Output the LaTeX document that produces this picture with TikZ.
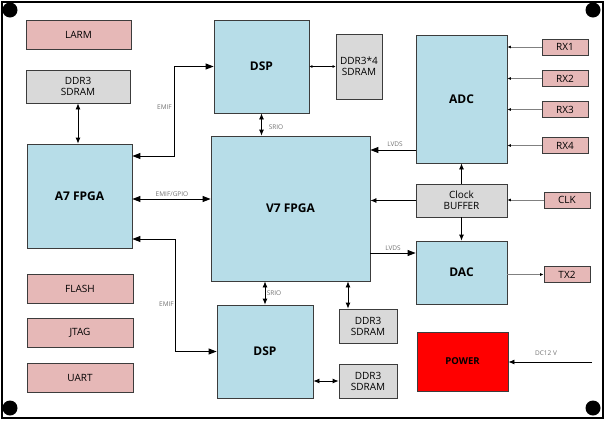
\documentclass[tikz,border=0pt]{standalone}
\usepackage{fontspec}
\setmainfont{Open Sans}
\usepackage{tikz}
\usetikzlibrary{arrows.meta}
\usetikzlibrary{positioning}
\usetikzlibrary{calc}
\definecolor{PinkFill}{RGB}{230,184,183}
\definecolor{BlueFill}{RGB}{183,221,232}
\definecolor{GrayFill}{RGB}{217,217,217}
\definecolor{EdgeColor}{RGB}{60,60,60}

\begin{document}
\begin{tikzpicture}[x=1pt, y=-1pt,
        blk/.style={draw=EdgeColor, line width=0.8pt, inner sep=0pt, align=center, font=\fontsize{10}{11}\selectfont},
        port/.style={blk, fill=PinkFill},
        mem/.style={blk, fill=GrayFill},
        chip/.style={blk, fill=BlueFill, font=\fontsize{12}{13}\selectfont\bfseries},
        bus/.style={{Latex[length=6pt,width=5pt]}-{Latex[length=6pt,width=5pt]}, line width=0.8pt},
        wide/.style={{Triangle[length=8pt,width=6pt]}-{Triangle[length=8pt,width=6pt]}, line width=1pt},
        wideto/.style={-{Triangle[length=8pt,width=6pt]}, line width=1pt},
        link/.style={-{Latex[length=6pt,width=5pt]}, line width=0.8pt},
        thin/.style={-{Latex[length=3.5pt,width=3pt,black]}, line width=0.9pt, gray},
        tag/.style={font=\fontsize{6.5}{7}\selectfont, text=gray!90!black, inner sep=1pt}
    ]
        \useasboundingbox (0,0) rectangle (606,421);
        \draw[line width=1.3pt] (2,2) rectangle (603,418);
        \fill (10,10) circle (7.5pt);
        \fill (593,10) circle (7.5pt);
        \fill (10,408) circle (7.5pt);
        \fill (593,408) circle (7.5pt);

        \node[port, minimum width=105pt, minimum height=29pt] (larm) at (78.5,34.5) {LARM};
        \node[mem, minimum width=104pt, minimum height=33pt] (ddrL) at (78,86.5) {DDR3\\SDRAM};
        \node[chip, minimum width=105pt, minimum height=104pt] (a7) at (79.5,196) {A7 FPGA};
        \node[port, minimum width=106pt, minimum height=29pt] (flash) at (80,288.5) {FLASH};
        \node[port, minimum width=106pt, minimum height=29pt] (jtag) at (80,332.5) {JTAG};
        \node[port, minimum width=106pt, minimum height=29pt] (uart) at (80,377.5) {UART};

        \node[chip, minimum width=95pt, minimum height=93pt] (dspA) at (261.5,66.5) {DSP};
        \node[mem, minimum width=46pt, minimum height=65pt] (ddrQ) at (359,66.5) {DDR3*4\\SDRAM};
        \node[chip, minimum width=159pt, minimum height=145pt] (v7) at (290.5,208.5) {V7 FPGA};
        \node[chip, minimum width=96pt, minimum height=93pt] (dspB) at (265,351.5) {DSP};
        \node[mem, minimum width=58pt, minimum height=34pt] (ddrM) at (368,326) {DDR3\\SDRAM};
        \node[mem, minimum width=58pt, minimum height=34pt] (ddrB) at (368,381) {DDR3\\SDRAM};

        \node[chip, minimum width=91pt, minimum height=128pt] (adc) at (461.5,99) {ADC};
        \node[mem, minimum width=91pt, minimum height=33pt] (clkbuf) at (461.5,200.5) {Clock\\BUFFER};
        \node[chip, minimum width=91pt, minimum height=63pt] (dac) at (461.5,272.5) {DAC};
        \node[blk, fill=red, minimum width=91pt, minimum height=59pt, font=\fontsize{9.5}{10}\selectfont\bfseries] (power) at (462.5,361.5) {POWER};

        \node[port, minimum width=46pt, minimum height=16pt] (rx1) at (565,47) {RX1};
        \node[port, minimum width=46pt, minimum height=16pt] (rx2) at (565,78.5) {RX2};
        \node[port, minimum width=46pt, minimum height=16pt] (rx3) at (565,109.5) {RX3};
        \node[port, minimum width=46pt, minimum height=16pt] (rx4) at (565,145.5) {RX4};
        \node[port, minimum width=46pt, minimum height=16pt] (clk) at (567,200) {CLK};
        \node[port, minimum width=46pt, minimum height=16pt] (tx2) at (567,274.5) {TX2};
        \coordinate (dcin) at (592,362);

        \draw[bus] (ddrL.south) -- (ddrL.south |- a7.north);
        \draw[wide] (a7.east |- 0,156) -| (174,66.5) -- (dspA.west);
        \draw[wide] (a7.east |- 0,199) -- (v7.west |- 0,199);
        \draw[wide] (a7.east |- 0,239) -| (175,351.5) -- (dspB.west);
        \draw[bus] (dspA.south) -- (dspA.south |- v7.north);
        \draw[bus] (dspB.north |- v7.south) -- (dspB.north);
        \draw[{Latex[length=3pt,width=3pt]}-{Latex[length=3pt,width=3pt]}, line width=0.8pt] (dspA.east |- ddrQ.west) -- (ddrQ.west);
        \draw[bus] (v7.south -| 348,0) -- (ddrM.north -| 348,0);
        \draw[bus] (dspB.east |- ddrB.west) -- (ddrB.west);

        \draw[wideto] (adc.west |- 0,150) -- (v7.east |- 0,150);
        \draw[wideto] (v7.east |- 0,253) -- (dac.west |- 0,253);
        \draw[link] (clkbuf.west) -- (v7.east |- clkbuf.west);
        \draw[link] (clkbuf.north) -- (adc.south);
        \draw[link] (clkbuf.south) -- (dac.north);
        \draw[thin] (clk.west) -- (clkbuf.east |- clk.west);
        \draw[thin] (rx1.west) -- (adc.east |- rx1.west);
        \draw[thin] (rx2.west) -- (adc.east |- rx2.west);
        \draw[thin] (rx3.west) -- (adc.east |- rx3.west);
        \draw[thin] (rx4.west) -- (adc.east |- rx4.west);
        \draw[thin] (dac.east |- tx2.west) -- (tx2.west);
        \draw[link] (dcin) -- (power.east |- dcin);

        \node[tag, anchor=east] (lblEmifA) at (173,107) {EMIF};
        \node[tag, anchor=east] (lblEmifB) at (175,304) {EMIF};
        \node[tag] (lblGpio) at (172,194) {EMIF/GPIO};
        \node[tag] (lblSrioA) at (276,127) {SRIO};
        \node[tag] (lblSrioB) at (274,293) {SRIO};
        \node[tag] (lblLvdsA) at (395,144) {LVDS};
        \node[tag] (lblLvdsB) at (393,248) {LVDS};
        \node[tag] (lblDc) at (546,353) {DC12 V};
    \end{tikzpicture}
\end{document}
